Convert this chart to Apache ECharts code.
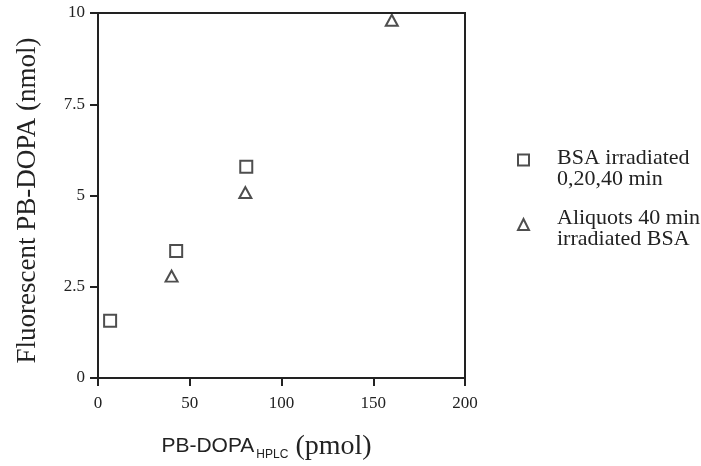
<!DOCTYPE html>
<html><head><meta charset="utf-8">
<script src="https://cdn.jsdelivr.net/npm/echarts@6/dist/echarts.min.js"></script>
<style>html,body{margin:0;padding:0;background:#fff}#c{width:701px;height:466px}</style>
</head><body><div id="c"></div>
<script>
const seriesNames = ['BSA irradiated\n0,20,40 min', 'Aliquots 40 min\nirradiated BSA'];
const bsaX = [6.6, 42.6, 80.8];
const bsaY = [1.57, 3.48, 5.79];
const aliqX = [40.1, 80.3, 160.1];
const aliqY = [2.79, 5.08, 9.8];
const xTicks = [0, 50, 100, 150, 200];
const yTicks = [0, 2.5, 5, 7.5, 10];

const serif = 'Liberation Serif';
const ink = '#222';
function legendFmt(name) {
  return '{g|}\n' + name.split('\n').map(s => '{a|' + s + '}').join('\n');
}
function legendOpt(top, lead, name, icon) {
  return {
    orient: 'vertical', left: 517, top: top, itemWidth: 11, itemHeight: 11, padding: 0,
    formatter: legendFmt,
    textStyle: {color: ink, padding: [0, 0, 0, 23], rich: {
      g: {fontSize: 1, lineHeight: lead},
      a: {fontFamily: serif, fontSize: 22, lineHeight: 21, color: ink}
    }},
    data: [{name: name, icon: icon}]
  };
}
const chart = echarts.init(document.getElementById('c'));
chart.setOption({
  animation: false,
  grid: {left: 98, right: 236, top: 13, bottom: 87, show: true, borderColor: ink, borderWidth: 2, backgroundColor: 'transparent'},
  xAxis: {
    type: 'value', min: xTicks[0], max: xTicks[xTicks.length-1], interval: 50,
    splitLine: {show: false},
    axisLine: {show: true, onZero: false, lineStyle: {color: ink, width: 2}},
    axisTick: {show: true, length: 8, lineStyle: {color: ink, width: 2}},
    axisLabel: {color: ink, fontFamily: serif, fontSize: 17, margin: 17},
    name: '{s|PB-DOPA}{sub|HPLC}{t| (pmol)}',
    nameLocation: 'middle', nameGap: 54,
    nameTextStyle: {padding: [0, 30, 0, 0], rich: {
      s: {fontFamily: 'Liberation Sans', fontSize: 21, color: ink},
      sub: {fontFamily: 'Liberation Sans', fontSize: 12, color: ink, padding: [17, 0, 0, 2]},
      t: {fontFamily: serif, fontSize: 28, color: ink}
    }}
  },
  yAxis: {
    type: 'value', min: yTicks[0], max: yTicks[yTicks.length-1], interval: 2.5,
    splitLine: {show: false},
    axisLine: {show: true, onZero: false, lineStyle: {color: ink, width: 2}},
    axisTick: {show: true, length: 8, lineStyle: {color: ink, width: 2}},
    axisLabel: {color: ink, fontFamily: serif, fontSize: 17, margin: 13},
    name: 'Fluorescent PB-DOPA (nmol)',
    nameLocation: 'middle', nameGap: 57,
    nameTextStyle: {fontFamily: serif, fontSize: 27, color: ink, padding: [0, 10, 0, 0]}
  },
  legend: [
    legendOpt(138.5, 17, seriesNames[0], 'rect'),
    legendOpt(203, 8, seriesNames[1], 'triangle')
  ],
  series: [
    {type: 'scatter', name: seriesNames[0], symbol: 'rect', symbolSize: 12,
     data: bsaX.map((x, i) => [x, bsaY[i]]),
     itemStyle: {color: 'rgba(0,0,0,0)', borderColor: ink, borderWidth: 2}},
    {type: 'scatter', name: seriesNames[1], symbol: 'triangle', symbolSize: [12, 11],
     data: aliqX.map((x, i) => [x, aliqY[i]]),
     itemStyle: {color: 'rgba(0,0,0,0)', borderColor: ink, borderWidth: 2}}
  ]
});
</script></body></html>
